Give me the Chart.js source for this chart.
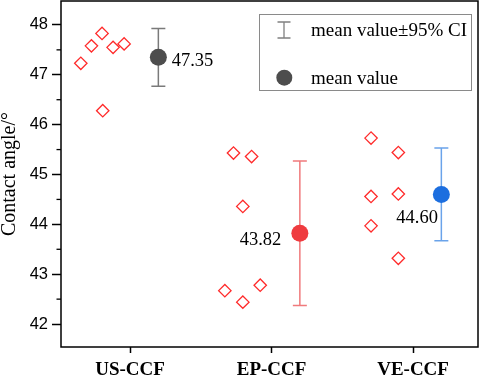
<!DOCTYPE html>
<html><head><meta charset="utf-8">
<script src="https://cdn.jsdelivr.net/npm/chart.js@4/dist/chart.umd.min.js"></script>
<style>html,body{margin:0;padding:0;background:#fff}</style>
</head><body>
<canvas id="c" width="484" height="376"></canvas>
<script>
const categories = ['US-CCF', 'EP-CCF', 'VE-CCF'];
const usValues = [47.23, 47.58, 47.83, 47.55, 47.62, 46.28];
const epValues = [45.43, 45.36, 44.36, 42.67, 42.44, 42.78];
const veValues = [45.73, 45.44, 44.56, 44.61, 43.97, 43.32];
const usJitter = [-0.348, -0.273, -0.198, -0.120, -0.042, -0.193];
const epJitter = [-0.269, -0.141, -0.203, -0.330, -0.203, -0.080];
const veJitter = [-0.297, -0.104, -0.297, -0.104, -0.297, -0.104];
const meanValues = [47.35, 43.82, 44.60];
const ciHalfWidths = [0.58, 1.45, 0.93];
const meanLabels = ['47.35', '43.82', '44.60'];
const meanOffset = 0.2;
const yTicks = [42, 43, 44, 45, 46, 47, 48];
const yMinorTicks = [42.5, 43.5, 44.5, 45.5, 46.5, 47.5];
const legendLabels = ['mean value\u00b195% CI', 'mean value'];

const SERIF = "'Liberation Serif', 'Times New Roman', serif";
const SANS = "'Liberation Sans', Arial, sans-serif";
const meanColors = ['#4d4d4d', '#ef3b3f', '#1c6edf'];
const barColors = ['#7a7a7a', '#f07a7c', '#6aa3ea'];
const labelStyle = [
  {dx: 13.3, dy: 8.4, align: 'left'},
  {dx: -18.6, dy: 11.3, align: 'right'},
  {dx: -3.4, dy: 29, align: 'right'}
];

const groups = [[usValues, usJitter], [epValues, epJitter], [veValues, veJitter]];
const diamonds = [];
groups.forEach((g, gi) => g[0].forEach((v, i) => diamonds.push({x: gi + 1 + g[1][i], y: v})));
const means = meanValues.map((v, i) => ({x: i + 1 + meanOffset, y: v}));

const decor = {
  id: 'decor',
  beforeDatasetsDraw(chart) {
    const ctx = chart.ctx, xs = chart.scales.x, ys = chart.scales.y;
    ctx.save();
    meanValues.forEach((m, i) => {
      const px = xs.getPixelForValue(i + 1 + meanOffset);
      const top = ys.getPixelForValue(m + ciHalfWidths[i]);
      const bot = ys.getPixelForValue(m - ciHalfWidths[i]);
      ctx.strokeStyle = barColors[i];
      ctx.lineWidth = 1.5;
      ctx.beginPath();
      ctx.moveTo(px, top); ctx.lineTo(px, bot);
      ctx.moveTo(px - 7, top); ctx.lineTo(px + 7, top);
      ctx.moveTo(px - 7, bot); ctx.lineTo(px + 7, bot);
      ctx.stroke();
    });
    ctx.restore();
  },
  afterDraw(chart) {
    const ctx = chart.ctx, xs = chart.scales.x, ys = chart.scales.y, a = chart.chartArea;
    ctx.save();
    ctx.strokeStyle = '#000'; ctx.lineWidth = 1.3;
    yMinorTicks.forEach(v => {
      const py = ys.getPixelForValue(v);
      ctx.beginPath(); ctx.moveTo(a.left - 4.5, py); ctx.lineTo(a.left, py); ctx.stroke();
    });
    ctx.lineWidth = 1.5;
    ctx.strokeRect(a.left, a.top, a.right - a.left, a.bottom - a.top);
    ctx.fillStyle = '#000';
    ctx.font = '18.5px ' + SERIF;
    ctx.textBaseline = 'alphabetic';
    meanValues.forEach((m, i) => {
      const px = xs.getPixelForValue(i + 1 + meanOffset);
      const py = ys.getPixelForValue(m);
      ctx.textAlign = labelStyle[i].align;
      ctx.fillText(meanLabels[i], px + labelStyle[i].dx, py + labelStyle[i].dy);
    });
    ctx.strokeStyle = '#8a8a8a'; ctx.lineWidth = 1;
    ctx.strokeRect(259.5, 14.5, 212, 76);
    ctx.strokeStyle = '#808080'; ctx.lineWidth = 1.3;
    ctx.beginPath();
    ctx.moveTo(284, 22); ctx.lineTo(284, 38);
    ctx.moveTo(277.5, 22); ctx.lineTo(290.5, 22);
    ctx.moveTo(277.5, 38); ctx.lineTo(290.5, 38);
    ctx.stroke();
    ctx.fillStyle = meanColors[0];
    ctx.beginPath(); ctx.arc(284.3, 77.7, 8, 0, Math.PI * 2); ctx.fill();
    ctx.fillStyle = '#000';
    ctx.font = '19px ' + SERIF;
    ctx.textAlign = 'left';
    ctx.fillText(legendLabels[0], 311, 36);
    ctx.fillText(legendLabels[1], 311, 84);
    ctx.restore();
  }
};

new Chart(document.getElementById('c'), {
  type: 'scatter',
  data: {
    datasets: [
      {
        data: diamonds,
        pointStyle: 'rectRot',
        pointRadius: 6.2,
        pointHoverRadius: 6.2,
        borderColor: '#ff2a2a',
        backgroundColor: 'rgba(255,255,255,0)',
        borderWidth: 1.3
      },
      {
        data: means,
        pointStyle: 'circle',
        pointRadius: 8.5,
        pointHoverRadius: 8.5,
        backgroundColor: meanColors,
        borderColor: meanColors,
        borderWidth: 0
      }
    ]
  },
  options: {
    responsive: false,
    animation: false,
    events: [],
    layout: {autoPadding: false, padding: {left: 0, right: 6, top: 1, bottom: 0}},
    plugins: {legend: {display: false}, tooltip: {enabled: false}},
    scales: {
      x: {
        type: 'linear',
        min: 0.512,
        max: 3.459,
        afterBuildTicks: s => { s.ticks = categories.map((c, i) => ({value: i + 1})); },
        afterFit: s => { s.height = 29; s.paddingLeft = 0; s.paddingRight = 0; },
        grid: {drawOnChartArea: false, drawTicks: true, tickLength: 6, tickColor: '#000', tickWidth: 1.5},
        border: {display: false},
        ticks: {
          color: '#000',
          padding: 6,
          maxRotation: 0,
          font: {family: SERIF, size: 19, weight: 'bold'},
          callback: v => categories[Math.round(v) - 1]
        }
      },
      y: {
        type: 'linear',
        min: 41.54,
        max: 48.48,
        afterBuildTicks: s => { s.ticks = yTicks.map(v => ({value: v})); },
        afterFit: s => { s.width = 61; s.paddingTop = 0; s.paddingBottom = 0; },
        grid: {drawOnChartArea: false, drawTicks: true, tickLength: 9, tickColor: '#000', tickWidth: 1.5},
        border: {display: false},
        ticks: {
          color: '#000',
          padding: 4,
          font: {family: SANS, size: 16.5},
          callback: v => String(v)
        },
        title: {
          display: true,
          text: 'Contact angle/\u00b0',
          color: '#000',
          padding: 0,
          font: {family: SERIF, size: 20, lineHeight: 1}
        }
      }
    }
  },
  plugins: [decor]
});
</script>
</body></html>
